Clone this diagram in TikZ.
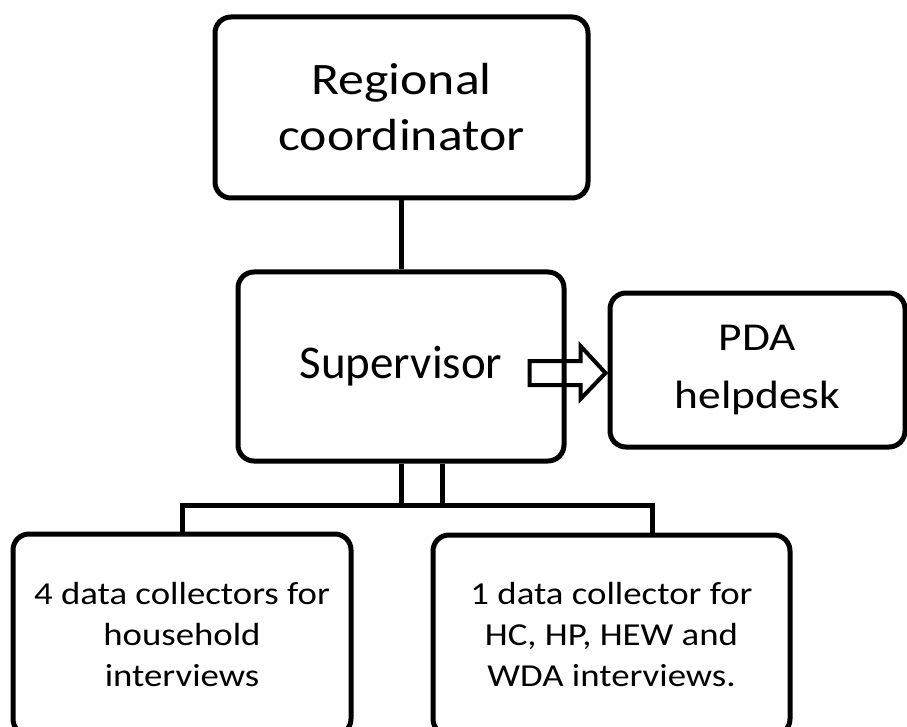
\documentclass[tikz,border=0pt]{standalone}
\usepackage{fontspec}
\setmainfont{Carlito}
\newfontfamily\fs[FakeStretch=1.15]{Carlito}
\usetikzlibrary{calc}
\begin{document}
\begin{tikzpicture}[x=1pt,y=-1pt,
  box/.style={draw, line width=5pt, rounded corners=16pt, inner sep=0pt, align=center},
  conn/.style={line width=5pt},
  blockarrow/.style={draw, line width=4pt, line join=miter}]
\clip (0,0) rectangle (907,727);
\node[box, minimum width=373pt, minimum height=181pt, font=\fs\fontsize{45}{56}\selectfont] (reg) at (401.5,107.5) {Regional\\coordinator};
\node[box, minimum width=326pt, minimum height=189pt, font=\fontsize{47}{56}\selectfont] (sup) at (401,366.5) {Supervisor};
\node[box, minimum width=295pt, minimum height=154pt, font=\fs\fontsize{39.5}{58}\selectfont] (pda) at (757.5,370) {PDA\\helpdesk};
\node[box, minimum width=338pt, minimum height=201pt, font=\fs\fontsize{32}{41}\selectfont] (left) at (182,634.5) {4 data collectors for\\household\\interviews};
\node[box, minimum width=357pt, minimum height=200pt, font=\fs\fontsize{32}{41}\selectfont] (right) at (611.5,635) {1 data collector for\\HC, HP, HEW and\\WDA interviews.};
% connectors
\draw[conn] (sup.north |- reg.south) -- (sup.north);
\coordinate (b1) at (182,505);
\coordinate (b2) at (652,505);
\coordinate (s2) at (442,461);
\draw[conn] (left.north) -- (b1) -- (b2) -- (b2 |- right.north);
\draw[conn] (sup.south) -- (sup.south |- b1);
\draw[conn] (s2 |- sup.south) -- (s2 |- b1);
% block arrow
\draw[blockarrow] ($(pda.west)+(-78,-9)$) -- ($(pda.west)+(-27,-9)$) -- ($(pda.west)+(-27,-24)$)
  -- ($(pda.west)+(-2,3)$) -- ($(pda.west)+(-27,29)$) -- ($(pda.west)+(-27,15)$)
  -- ($(pda.west)+(-78,15)$) -- cycle;
\end{tikzpicture}
\end{document}
